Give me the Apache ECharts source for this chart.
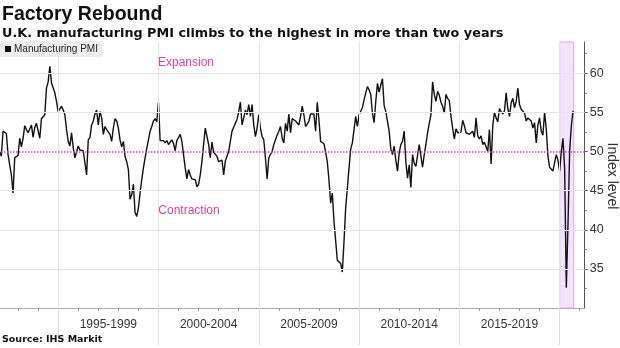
<!DOCTYPE html>
<html>
<head>
<meta charset="utf-8">
<script src="https://cdn.jsdelivr.net/npm/echarts@6/dist/echarts.min.js"></script>
<style>
  html, body { margin: 0; padding: 0; background: #ffffff; }
  #chart { width: 620px; height: 348px; }
</style>
</head>
<body>
<div id="chart"></div>
<script>
// UK manufacturing PMI, monthly from January 1992 to August 2020
const startYear = 1992;
const pmi = [
  50.0, 49.4, 52.6, 52.4, 52.3, 49.6, 48.3, 47.0, 44.7, 49.2, 49.4, 49.5,
  51.7, 50.6, 51.7, 53.3, 52.8, 52.4, 52.5, 53.4, 51.8, 53.1, 53.6, 53.4,
  51.7, 54.2, 54.1, 54.7, 58.1, 58.9, 60.9, 58.8, 58.6, 57.5, 56.4, 55.1,
  55.3, 55.8, 55.3, 54.7, 52.8, 51.3, 50.7, 52.4, 50.5, 49.2, 49.1, 50.7,
  50.2, 50.3, 50.1, 50.1, 47.0, 51.5, 51.8, 53.4, 53.9, 54.8, 55.3, 53.4,
  55.1, 54.3, 52.2, 53.2, 52.8, 52.6, 52.2, 51.3, 53.0, 54.2, 53.9, 53.0,
  51.5, 50.6, 51.3, 49.4, 48.7, 47.7, 43.9, 44.5, 45.8, 42.2, 41.7, 42.8,
  44.7, 46.4, 47.9, 49.2, 50.4, 51.5, 52.6, 53.2, 53.9, 54.2, 53.8, 56.3,
  51.4, 51.3, 51.4, 51.1, 51.4, 50.9, 51.2, 51.5, 51.0, 50.1, 51.4, 51.3,
  52.2, 51.3, 49.6, 47.9, 46.5, 47.7, 47.0, 46.5, 46.5, 46.4, 45.5, 45.8,
  47.0, 48.7, 50.9, 53.0, 52.8, 50.9, 49.2, 51.2, 49.9, 49.8, 49.4, 48.7,
  48.7, 48.9, 47.0, 48.8, 48.9, 50.0, 51.3, 52.6, 53.1, 53.6, 54.1, 55.1,
  56.3, 53.4, 54.3, 55.3, 54.7, 56.0, 54.5, 56.0, 53.4, 51.9, 53.0, 54.7,
  53.0, 51.9, 51.5, 49.2, 46.5, 49.2, 49.4, 50.0, 50.9, 51.5, 52.1, 52.6,
  53.2, 51.7, 51.1, 53.6, 52.6, 54.8, 52.4, 54.2, 54.2, 53.9, 54.0, 53.4,
  54.5, 55.8, 54.7, 53.2, 53.5, 53.9, 54.8, 55.0, 54.8, 52.6, 56.3, 54.1,
  51.3, 51.3, 51.0, 49.9, 48.7, 46.4, 43.4, 44.7, 41.1, 40.9, 36.1, 36.0,
  35.7, 34.6, 38.5, 42.8, 45.3, 47.9, 50.3, 51.1, 50.9, 54.5, 53.2, 54.7,
  54.8, 55.6, 56.6, 57.5, 58.3, 57.9, 57.3, 54.9, 53.7, 56.4, 58.7, 57.6,
  58.5, 59.3, 55.9, 55.1, 53.9, 52.6, 50.3, 49.6, 50.7, 48.9, 47.5, 49.8,
  50.9, 51.3, 52.6, 48.7, 46.6, 48.3, 45.4, 49.6, 48.5, 48.1, 48.0, 50.9,
  51.1, 48.0, 49.6, 50.9, 52.4, 53.6, 54.7, 58.9, 57.3, 56.4, 57.7, 57.2,
  56.3, 55.8, 54.9, 57.3, 56.8, 56.5, 54.5, 53.0, 51.6, 52.9, 52.4, 52.4,
  52.5, 54.0, 53.3, 52.4, 52.4, 52.2, 52.3, 52.6, 51.8, 54.3, 52.0, 51.6,
  52.0, 50.9, 51.2, 50.6, 50.0, 52.8, 48.4, 53.3, 55.0, 54.3, 53.8, 55.5,
  55.1, 54.8, 55.2, 57.5, 55.5, 54.5, 56.2, 56.8, 55.6, 56.4, 58.1, 56.0,
  55.4, 55.3, 54.9, 53.9, 54.3, 54.2, 53.9, 53.0, 53.7, 51.1, 53.4, 54.3,
  52.6, 52.1, 55.0, 52.9, 49.4, 48.0, 47.9, 47.5, 48.6, 49.6, 48.9, 47.5,
  50.0, 51.7, 47.8, 32.6, 40.7, 50.1, 53.3, 55.2
];

// Bottom axis: five-year blocks, yearly ticks
const periodLabels = ['1995-1999', '2000-2004', '2005-2009', '2010-2014', '2015-2019'];
const periodCenters = [1997.5, 2002.5, 2007.5, 2012.5, 2017.5];
const periodBounds = [1995, 2000, 2005, 2010, 2015, 2020];
const yearTicks = [1993, 1994, 1995, 1996, 1997, 1998, 1999, 2000, 2001, 2002, 2003,
  2004, 2005, 2006, 2007, 2008, 2009, 2010, 2011, 2012, 2013, 2014, 2015, 2016, 2017,
  2018, 2019, 2020, 2021];

// Right axis
const yTicks = [35, 40, 45, 50, 55, 60];
const yMinorTicks = [32.5, 37.5, 42.5, 47.5, 52.5, 57.5, 62.5];
const yGrid = [35, 40, 45, 55, 60];
const neutralLevel = 50;
const yAxisTitle = 'Index level';

// Highlighted pandemic period
const bandStart = 2020.0;
const bandEnd = 2020.7;

const xMin = 1992.0;
const xMax = 2021.25;

const seriesData = pmi.map((v, i) => [startYear + (i + 1) / 12, v]);

const PINK = '#e6409c';
const GRID = '#e6e6e6';
const AXIS_FONT = 'Liberation Sans, Arial, sans-serif';

const chart = echarts.init(document.getElementById('chart'), null, { renderer: 'canvas' });

chart.setOption({
  animation: false,
  backgroundColor: '#ffffff',
  textStyle: { fontFamily: AXIS_FONT },
  grid: { left: -2, right: 35.3, top: 42, bottom: 40, containLabel: false, outerBoundsMode: 'none' },
  legend: {
    show: true,
    left: 0,
    top: 41,
    padding: [3, 5, 3, 5],
    backgroundColor: '#eeeeee',
    icon: 'rect',
    itemWidth: 6,
    itemHeight: 6,
    itemGap: 4,
    textStyle: { fontSize: 10, color: '#222', fontFamily: AXIS_FONT, padding: [0, 0, 0, -2] },
    data: ['Manufacturing PMI']
  },
  title: [
    {
      text: 'Factory Rebound',
      left: 2, top: 5, padding: 0,
      textStyle: { fontSize: 19.5, fontWeight: 'bold', color: '#111', fontFamily: AXIS_FONT }
    },
    {
      text: 'U.K. manufacturing PMI climbs to the highest in more than two years',
      left: 2, top: 27, padding: 0,
      textStyle: { fontSize: 12.8, fontWeight: 'bold', color: '#111', fontFamily: 'DejaVu Sans, sans-serif' }
    },
    {
      text: 'Source: IHS Markit',
      left: 2, top: 335, padding: 0,
      textStyle: { fontSize: 9.5, fontWeight: 'bold', color: '#111', fontFamily: 'DejaVu Sans, sans-serif' }
    }
  ],
  graphic: [
    {
      type: 'text', x: 186, y: 63,
      style: { text: 'Expansion', fill: PINK, font: '12px ' + AXIS_FONT, textAlign: 'center', textVerticalAlign: 'middle' }
    },
    {
      type: 'text', x: 189, y: 211,
      style: { text: 'Contraction', fill: PINK, font: '12px ' + AXIS_FONT, textAlign: 'center', textVerticalAlign: 'middle' }
    },
    {
      // right-hand axis title, reading downwards
      type: 'text', x: 612, y: 176, rotation: -Math.PI / 2,
      style: { text: yAxisTitle, fill: '#333333', font: '14px ' + AXIS_FONT, textAlign: 'center', textVerticalAlign: 'middle' }
    }
  ],
  xAxis: [
    {
      type: 'value',
      min: xMin, max: xMax,
      position: 'bottom',
      splitLine: { show: false },
      axisLine: { show: true, lineStyle: { color: '#aaaaaa', width: 1 } },
      axisTick: { show: true, customValues: yearTicks, length: 3, lineStyle: { color: '#999999' } },
      axisLabel: {
        show: true,
        customValues: periodCenters,
        margin: 11,
        fontSize: 12,
        color: '#333333',
        formatter: (v) => {
          const i = periodCenters.findIndex((c) => Math.abs(c - v) < 1e-6);
          return i >= 0 ? periodLabels[i] : '';
        }
      }
    },
    {
      type: 'value',
      min: xMin, max: xMax,
      position: 'bottom',
      splitLine: { show: false },
      axisLine: { show: false },
      axisTick: { show: true, customValues: periodBounds, length: 37, lineStyle: { color: '#dddddd' } },
      axisLabel: { show: false }
    }
  ],
  yAxis: [
    {
      type: 'value',
      position: 'right',
      min: 30, max: 64,
      splitLine: { show: false },
      axisLine: { show: true, lineStyle: { color: '#555555', width: 1 } },
      axisTick: { show: true, customValues: yTicks, length: 3, lineStyle: { color: '#555555' } },
      axisLabel: { show: true, customValues: yTicks, margin: 5, fontSize: 12.5, color: '#333333' }
    },
    {
      type: 'value',
      position: 'right',
      min: 30, max: 64,
      splitLine: { show: false },
      axisLine: { show: false },
      axisTick: { show: true, customValues: yMinorTicks, length: 2, lineStyle: { color: '#777777' } },
      axisLabel: { show: false }
    }
  ],
  series: [
    {
      // background guides: grid lines, 50 threshold, shaded period
      name: 'guides',
      type: 'line',
      xAxisIndex: 0, yAxisIndex: 0,
      data: seriesData,
      showSymbol: false,
      silent: true,
      z: 1,
      lineStyle: { opacity: 0 },
      markArea: {
        silent: true,
        itemStyle: { color: 'rgba(234, 205, 250, 0.55)', borderColor: '#d9a9f2', borderWidth: 1 },
        data: [[{ xAxis: bandStart }, { xAxis: bandEnd }]]
      },
      markLine: {
        silent: true,
        symbol: 'none',
        label: { show: false },
        animation: false,
        data: [
          ...periodBounds.map((b) => ({ xAxis: b, lineStyle: { color: GRID, width: 1, type: 'solid' } })),
          ...yGrid.map((g) => ({ yAxis: g, lineStyle: { color: GRID, width: 1, type: 'solid' } })),
          { yAxis: neutralLevel, lineStyle: { color: PINK, width: 1.5, type: [1.5, 1.5] } }
        ]
      }
    },
    {
      name: 'Manufacturing PMI',
      type: 'line',
      xAxisIndex: 0, yAxisIndex: 0,
      data: seriesData,
      showSymbol: false,
      symbol: 'none',
      z: 3,
      itemStyle: { color: '#111111' },
      lineStyle: { color: '#111111', width: 1.4 }
    }
  ]
});
</script>
</body>
</html>
